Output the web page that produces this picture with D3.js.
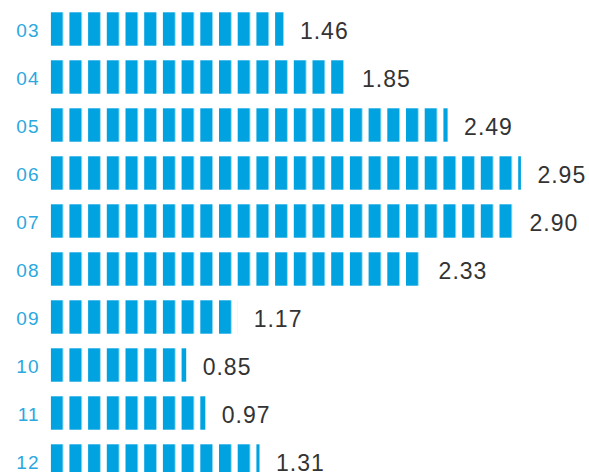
<!DOCTYPE html>
<html>
<head>
<meta charset="utf-8">
<script src="https://cdn.jsdelivr.net/npm/d3@7/dist/d3.min.js"></script>
<style>
  html, body { margin: 0; padding: 0; background: #fff; overflow: hidden; }
  svg { display: block; }
</style>
</head>
<body>
<svg id="chart" width="589" height="472"></svg>
<script>
const categories = ["03", "04", "05", "06", "07", "08", "09", "10", "11", "12"];
const values = [1.46, 1.85, 2.49, 2.95, 2.90, 2.33, 1.17, 0.85, 0.97, 1.31];
const valueLabels = ["1.46", "1.85", "2.49", "2.95", "2.90", "2.33", "1.17", "0.85", "0.97", "1.31"];

const svg = d3.select("#chart");
const barColor = "#00a3e0";
const labelColor = "#2aa8df";

const x = d3.scaleLinear().domain([0, 2.95]).range([50.7, 50.7 + 2.95 * 159.4]);
const y = d3.scaleBand().domain(categories).range([12.3, 12.3 + 48 * 10]).paddingInner(0).paddingOuter(0);

// stripe pattern
const defs = svg.append("defs");
const pat = defs.append("pattern")
  .attr("id", "stripes")
  .attr("patternUnits", "userSpaceOnUse")
  .attr("x", x(0)).attr("y", 0)
  .attr("width", 18.7).attr("height", 472);
pat.append("rect").attr("x", 0).attr("y", 0).attr("width", 12.2).attr("height", 472).attr("fill", barColor);

const bandH = 33.4;

const rows = svg.append("g").selectAll("g.row").data(categories).join("g").attr("class", "row");

rows.append("rect")
  .attr("x", x(0))
  .attr("y", d => y(d))
  .attr("width", (d, i) => x(values[i]) - x(0))
  .attr("height", bandH)
  .attr("fill", "url(#stripes)");

rows.append("text")
  .attr("x", 39.5)
  .attr("y", d => y(d) + bandH / 2 + 8.2)
  .attr("text-anchor", "end")
  .attr("font-family", "Liberation Sans, Arial, sans-serif")
  .attr("font-size", 19)
  .attr("letter-spacing", 1)
  .attr("fill", labelColor)
  .text(d => d);

rows.append("text")
  .attr("x", (d, i) => x(values[i]) + 16.5)
  .attr("y", d => y(d) + bandH / 2 + 10.4)
  .attr("font-family", "Liberation Sans, Arial, sans-serif")
  .attr("font-size", 23)
  .attr("letter-spacing", 1)
  .attr("fill", "#333333")
  .text((d, i) => valueLabels[i]);
</script>
</body>
</html>
